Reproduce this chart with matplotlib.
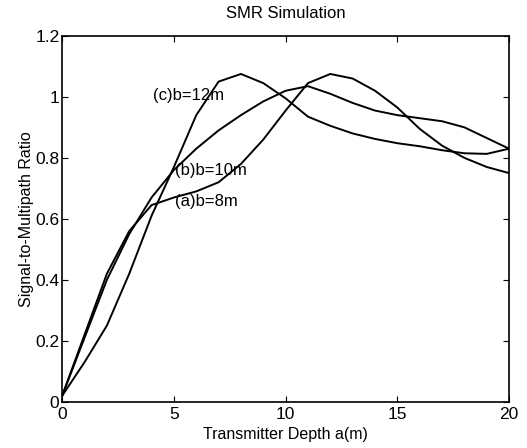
import matplotlib
matplotlib.use("Agg")
import matplotlib.pyplot as plt

plt.rcParams['font.family'] = ['Liberation Sans', 'DejaVu Sans']

depth = list(range(0, 21))
smr_a = [0.02, 0.22, 0.42, 0.56, 0.645, 0.67, 0.69, 0.72, 0.78, 0.86, 0.955,
         1.045, 1.075, 1.06, 1.02, 0.965, 0.895, 0.84, 0.80, 0.77, 0.75]
smr_b = [0.02, 0.21, 0.40, 0.55, 0.67, 0.76, 0.83, 0.89, 0.94, 0.985, 1.02,
         1.035, 1.01, 0.98, 0.955, 0.94, 0.93, 0.92, 0.90, 0.865, 0.83]
smr_c = [0.02, 0.13, 0.25, 0.42, 0.61, 0.77, 0.94, 1.05, 1.075, 1.045, 0.995,
         0.935, 0.905, 0.88, 0.862, 0.848, 0.838, 0.825, 0.815, 0.813, 0.83]

labels = ["(a)b=8m", "(b)b=10m", "(c)b=12m"]
label_pos = [(5.05, 0.656), (5.05, 0.76), (4.05, 1.003)]

xticks = [0, 5, 10, 15, 20]
yticks = [0, 0.2, 0.4, 0.6, 0.8, 1.0, 1.2]
yticklabels = ["0", "0.2", "0.4", "0.6", "0.8", "1", "1.2"]

fig = plt.figure(figsize=(5.27, 4.48), dpi=100)
ax = fig.add_axes([0.118, 0.103, 0.848, 0.817])

for s in (smr_a, smr_b, smr_c):
    ax.plot(depth, s, color='black', linewidth=1.4)

for lab, (lx, ly) in zip(labels, label_pos):
    ax.text(lx, ly, lab, fontsize=12, va='center', ha='left')

ax.set_xlim(0, 20)
ax.set_ylim(0, 1.2)
ax.set_xticks(xticks)
ax.set_yticks(yticks)
ax.set_yticklabels(yticklabels)
ax.tick_params(direction='in', top=True, right=True, labelsize=12.5, length=4)
ax.tick_params(axis='x', pad=4)
ax.tick_params(axis='y', pad=2)
for sp in ax.spines.values():
    sp.set_linewidth(1.2)

ax.set_title("SMR Simulation", fontsize=12, pad=13)
ax.set_xlabel("Transmitter Depth a(m)", fontsize=11.5, labelpad=3)
ax.set_ylabel("Signal-to-Multipath Ratio", fontsize=11.5, labelpad=1)

fig.savefig("out.png", dpi=100)
